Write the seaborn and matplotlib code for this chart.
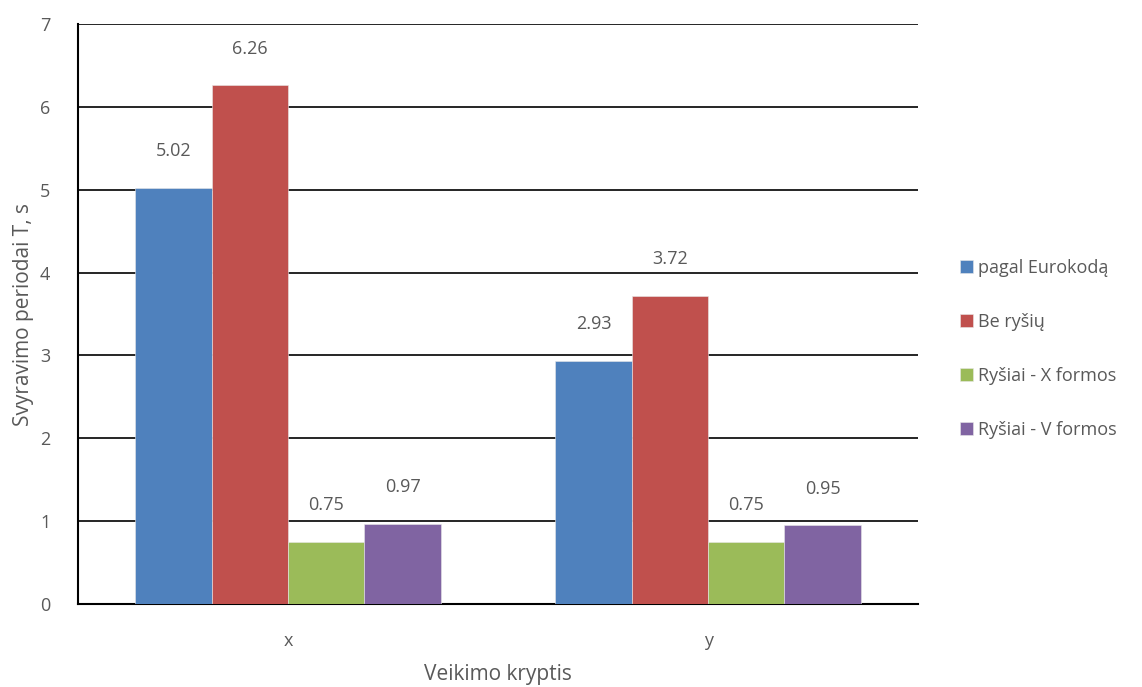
import matplotlib
matplotlib.use("Agg")
import pandas
import seaborn as sea
from matplotlib import pyplot

# values
directions = ["x", "y"]
series = ["pagal Eurokodą", "Be ryšių", "Ryšiai - X formos", "Ryšiai - V formos"]
eurokodas = [5.02, 2.93]
be_rysiu = [6.26, 3.72]
rysiai_x = [0.75, 0.75]
rysiai_v = [0.97, 0.95]
colors = ["#4F81BD", "#C0504D", "#9BBB59", "#8064A2"]

rows = []
for name, values in zip(series, [eurokodas, be_rysiu, rysiai_x, rysiai_v]):
    for direction, value in zip(directions, values):
        rows.append({"kryptis": direction, "serija": name, "T": value})
dataframe = pandas.DataFrame(rows)

sea.set_theme(style="white")
pyplot.rcParams["font.family"] = ["Open Sans", "DejaVu Sans"]
text_color = "#595959"

figure = pyplot.figure(figsize=(11.42, 6.87), dpi=100)
axis = figure.add_axes([0.0683, 0.1208, 0.7356, 0.8442])

sea.barplot(
    data=dataframe,
    x="kryptis",
    y="T",
    hue="serija",
    hue_order=series,
    palette=colors,
    saturation=1,
    width=0.727,
    gap=0,
    linewidth=0.4,
    edgecolor="#e8e8e8",
    ax=axis,
    zorder=3,
)

for container in axis.containers:
    axis.bar_label(container, fmt="%.2f", padding=20, fontsize=13, color=text_color)

axis.set_ylim(0, 7)
axis.set_yticks(range(0, 8))
axis.grid(axis="y", color="black", linewidth=1.2, zorder=0)
axis.set_axisbelow(True)
for side in ["top", "right"]:
    axis.spines[side].set_visible(False)
for side in ["left", "bottom"]:
    axis.spines[side].set_color("black")
    axis.spines[side].set_linewidth(1.5)
axis.tick_params(axis="both", length=0, labelsize=13, colors=text_color)
axis.tick_params(axis="y", pad=20)
axis.tick_params(axis="x", pad=20)

axis.set_xlabel("Veikimo kryptis", fontsize=15, color=text_color, labelpad=10)
axis.set_ylabel("Svyravimo periodai T, s", fontsize=15, color=text_color, labelpad=4)

axis.legend(
    loc="center left",
    bbox_to_anchor=(1.03, 0.44),
    frameon=False,
    fontsize=13,
    handlelength=0.75,
    handleheight=0.75,
    handletextpad=0.3,
    labelspacing=2.0,
    labelcolor=text_color,
)

figure.savefig("out.png", dpi=100)
